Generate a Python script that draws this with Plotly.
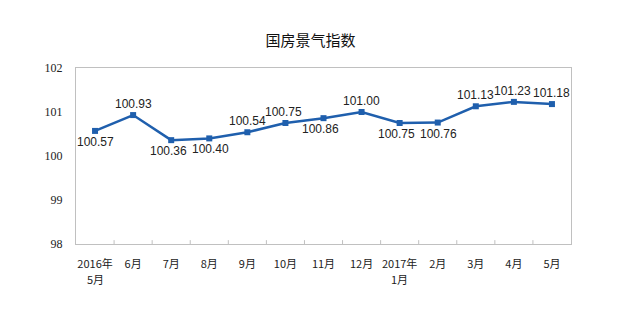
import plotly.graph_objects as go

categories = ["2016年", "6月", "7月", "8月", "9月", "10月", "11月", "12月",
              "2017年", "2月", "3月", "4月", "5月"]
second_line = {0: "5月", 8: "1月"}
values = [100.57, 100.93, 100.36, 100.40, 100.54, 100.75, 100.86, 101.00,
          100.75, 100.76, 101.13, 101.23, 101.18]
label_side = [-1, 1, -1, -1, 1, 1, -1, 1, -1, -1, 1, 1, 1]  # 1 above, -1 below
label_dx = [0, 0, -3, 1, 0, -2, -3, 0, -3, 1, 0, -1, 0]
y_ticks = [98, 99, 100, 101, 102]

fig = go.Figure()
fig.add_trace(go.Scatter(
    x=list(range(len(categories))), y=values,
    mode="lines+markers",
    line=dict(color="#1f5fad", width=2.5),
    marker=dict(symbol="square", size=6, color="#1f5fad"),
    showlegend=False,
))

for i, (v, s, dx) in enumerate(zip(values, label_side, label_dx)):
    fig.add_annotation(x=i, y=v, text=f"{v:.2f}", showarrow=False,
                       xanchor="center", yanchor="middle", yshift=11 * s, xshift=dx,
                       font=dict(family="Liberation Sans, Arial", size=12, color="#222222"))

for i, t in second_line.items():
    fig.add_annotation(x=i, y=0, xref="x", yref="paper", text=t, showarrow=False,
                       xanchor="center", yanchor="middle", yshift=-35,
                       font=dict(family="Noto Sans CJK SC", size=11, color="#222222"))

fig.update_layout(
    width=640, height=323,
    margin=dict(l=76, r=69, t=68, b=79),
    paper_bgcolor="white", plot_bgcolor="white",
    title=dict(text="国房景气指数", x=0.485, xanchor="center", y=0.875, yanchor="middle",
               font=dict(family="Noto Sans CJK SC", size=15, color="#111111")),
    xaxis=dict(
        range=[-0.5, len(categories) - 0.5],
        tickmode="array", tickvals=list(range(len(categories))), ticktext=categories,
        showgrid=False, zeroline=False,
        showline=True, linecolor="#c0c0c0", linewidth=1, mirror=True,
        ticks="", ticklabelstandoff=10,
        tickfont=dict(family="Noto Sans CJK SC", size=11, color="#222222"),
    ),
    yaxis=dict(
        range=[98, 102], tickvals=y_ticks,
        showgrid=False, zeroline=False,
        showline=True, linecolor="#c0c0c0", linewidth=1, mirror=True,
        ticks="", ticklabelstandoff=10,
        tickfont=dict(family="Liberation Serif, Times New Roman", size=12, color="#222222"),
    ),
)

# inside tick marks on category boundaries
for i in range(1, len(categories)):
    fig.add_shape(type="line", xref="x", yref="paper",
                  x0=i - 0.5, x1=i - 0.5, y0=0, y1=0.022,
                  line=dict(color="#c0c0c0", width=1))

fig.write_html("out.html")
